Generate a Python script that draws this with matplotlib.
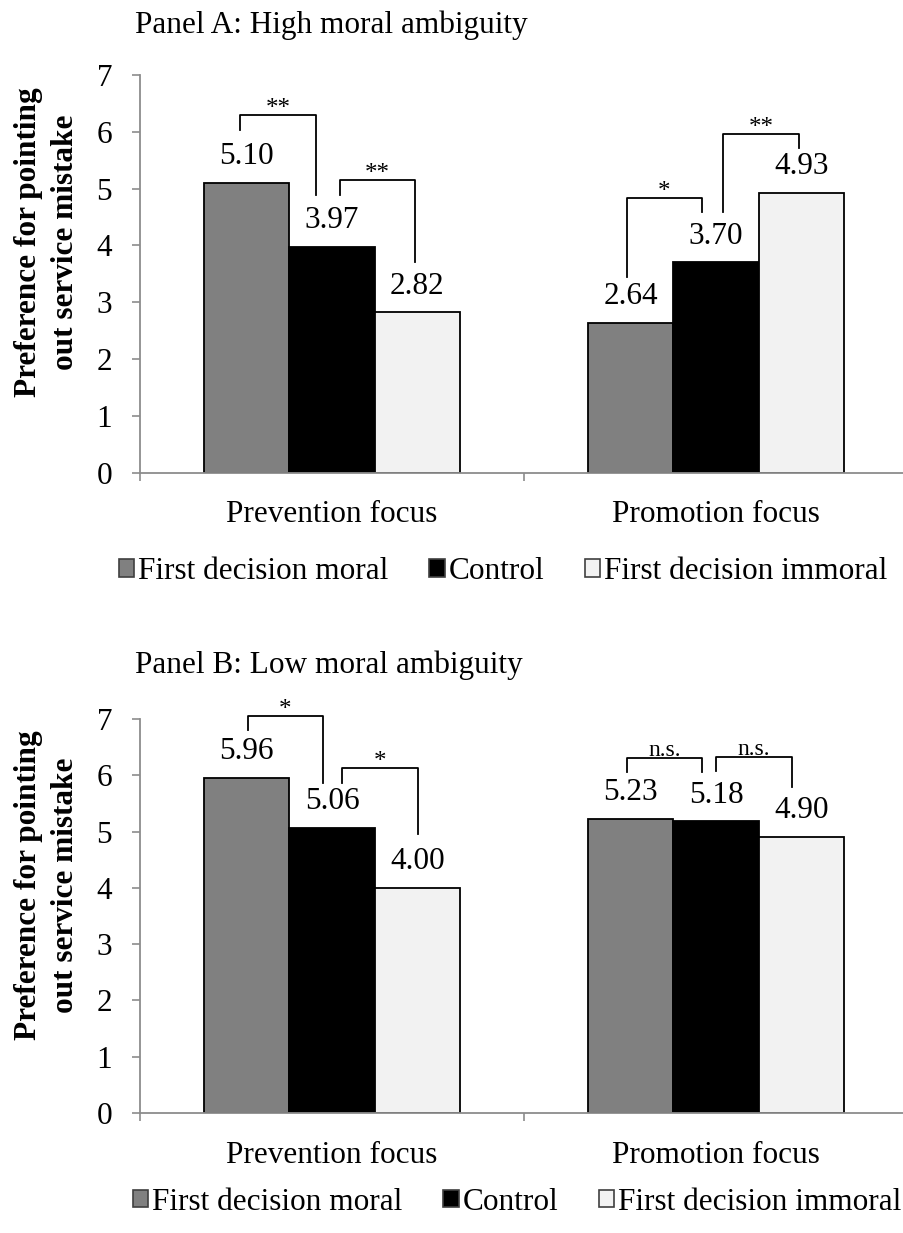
import matplotlib
matplotlib.use("Agg")
import matplotlib.pyplot as plt
from matplotlib.patches import Patch
import numpy as np

plt.rcParams['font.family'] = ['Liberation Serif', 'DejaVu Serif']

categories = ["Prevention focus", "Promotion focus"]
series = ["First decision moral", "Control", "First decision immoral"]
colors = ["#808080", "#000000", "#f2f2f2"]

panel_a_title = "Panel A: High moral ambiguity"
panel_a_moral = [5.10, 2.64]
panel_a_control = [3.97, 3.70]
panel_a_immoral = [2.82, 4.93]

panel_b_title = "Panel B: Low moral ambiguity"
panel_b_moral = [5.96, 5.23]
panel_b_control = [5.06, 5.18]
panel_b_immoral = [4.00, 4.90]

yticks = [0, 1, 2, 3, 4, 5, 6, 7]
ylabel = "Preference for pointing\nout service mistake"

# significance brackets: (x_left, x_right, y_top, y_left_end, y_right_end, label)
brackets_a = [
    (-0.240, -0.042, 6.30, 6.03, 4.89, "**"),
    (0.020, 0.216, 5.16, 4.89, 3.71, "**"),
    (0.767, 0.964, 4.84, 3.44, 4.58, "*"),
    (1.019, 1.216, 5.96, 4.58, 5.71, "**"),
]
brackets_b = [
    (-0.220, -0.023, 7.05, 6.80, 5.87, "*"),
    (0.027, 0.223, 6.13, 5.87, 4.95, "*"),
    (0.767, 0.964, 6.31, 6.06, 6.05, "n.s."),
    (0.999, 1.197, 6.33, 6.07, 5.80, "n.s."),
]

W, H = 904, 1233
fig = plt.figure(figsize=(W / 100, H / 100), dpi=100)

FS = 22.5
axis_gray = "#8c8c8c"
bar_w = 0.222


def make_panel(rect, title, title_y, vals, brackets, ylab_y, legend_y, legend_x, colsp):
    ax = fig.add_axes(rect)
    x = np.arange(len(categories))
    offsets = [-bar_w, 0, bar_w]
    for k, (v, c) in enumerate(zip(vals, colors)):
        bars = ax.bar(x + offsets[k], v, width=bar_w, color=c, edgecolor="black",
                      linewidth=1.3, zorder=2)
        for b, val in zip(bars, v):
            ax.annotate(f"{val:.2f}", (b.get_x() + b.get_width() / 2, b.get_height()),
                        xytext=(0, 13.5), textcoords="offset points",
                        ha="center", va="baseline", fontsize=FS)
    for (x1, x2, yt, yl, yr, lab) in brackets:
        ax.plot([x1, x1, x2, x2], [yl, yt, yt, yr], color="black", lw=1.3,
                clip_on=False, zorder=3)
        off = 1.5 if lab == "n.s." else 0.0
        fs = 17 if lab == "n.s." else 18
        ax.annotate(lab, ((x1 + x2) / 2, yt), xytext=(0, off), textcoords="offset points",
                    ha="center", va="baseline", fontsize=fs, annotation_clip=False)
    ax.set_xlim(-0.5, 1.5)
    ax.set_ylim(0, 7)
    ax.set_yticks(yticks)
    ax.set_yticklabels([str(t) for t in yticks], fontsize=FS)
    ax.set_xticks(x)
    ax.set_xticklabels(categories, fontsize=FS)
    ax.set_xticks([-0.5, 0.5, 1.5], minor=True)
    ax.tick_params(axis="x", which="major", length=0, pad=20)
    ax.tick_params(axis="x", which="minor", length=6, width=1.2, color=axis_gray, direction="out")
    ax.tick_params(axis="y", length=6, width=1.2, color=axis_gray, pad=14)
    for s in ["top", "right"]:
        ax.spines[s].set_visible(False)
    for s in ["left", "bottom"]:
        ax.spines[s].set_color(axis_gray)
        ax.spines[s].set_linewidth(1.3)
    fig.text(135 / W, 1 - title_y / H, title, fontsize=FS, ha="left", va="baseline")
    fig.text(47 / W, 1 - ylab_y / H, ylabel, fontsize=FS, fontweight="bold",
             rotation=90, ha="center", va="center", multialignment="center",
             linespacing=1.32)
    handles = [Patch(facecolor=c, edgecolor="#404040", linewidth=1.2) for c in colors]
    fig.legend(handles, series, loc="center", bbox_to_anchor=(legend_x / W, 1 - legend_y / H),
               ncol=3, frameon=False, fontsize=FS, handlelength=0.5, handleheight=0.5,
               handletextpad=0.12, columnspacing=colsp, borderaxespad=0)
    return ax


left = 140 / W
width = 768 / W
make_panel([left, 1 - 472.7 / H, width, (472.7 - 75) / H], panel_a_title, 33,
           [panel_a_moral, panel_a_control, panel_a_immoral], brackets_a, 242, 572, 503, 1.3)
make_panel([left, 1 - 1113 / H, width, (1113 - 719) / H], panel_b_title, 673,
           [panel_b_moral, panel_b_control, panel_b_immoral], brackets_b, 885, 1202, 517, 1.3)

fig.savefig("out.png", dpi=100)
